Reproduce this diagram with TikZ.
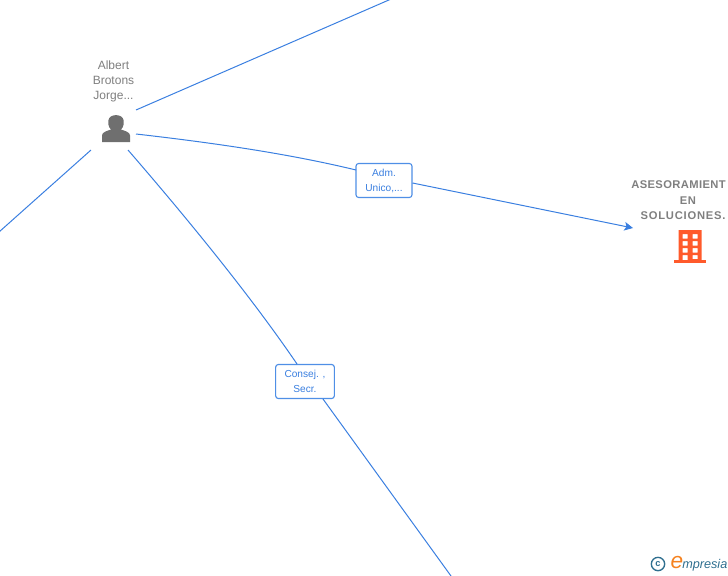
\documentclass[tikz,border=0pt]{standalone}
\usepackage{fontspec}
\setmainfont{Liberation Sans}
\usetikzlibrary{arrows.meta}
\definecolor{edgeblue}{HTML}{3A7FE0}
\definecolor{boxblue}{HTML}{4F8FE6}
\definecolor{labelgrey}{HTML}{7F7F7F}
\definecolor{icongrey}{HTML}{6F6F6F}
\definecolor{bldorange}{HTML}{FF5A2B}
\definecolor{logoblue}{HTML}{2F6F8F}
\definecolor{logoorange}{HTML}{F58220}
\tikzset{
  x=0.75pt,y=-0.75pt,
  edgeline/.style={draw=edgeblue,line width=0.75pt},
  rolebox/.style={draw=boxblue,fill=white,rounded corners=2pt,line width=0.85pt,text=edgeblue,
    font=\fontsize{7.6pt}{11.2pt}\selectfont,align=center,inner sep=0pt},
  namelabel/.style={text=labelgrey,font=\fontsize{9pt}{11.2pt}\selectfont,align=center,inner sep=0pt},
  firmlabel/.style={text=labelgrey,font=\fontsize{8.4pt}{11.2pt}\selectfont\bfseries,align=center,inner sep=0pt},
}
\begin{document}
\begin{tikzpicture}
\useasboundingbox (0,0) rectangle (728,575);
% role boxes
\node[rolebox,minimum width=42pt,minimum height=25.5pt,text depth=0pt] (adm) at (384,180.5) {Adm.\\Unico,...};
\node[rolebox,minimum width=44pt,minimum height=25.5pt] (consej) at (305,381.5) {Consej. ,\\Secr.};
% anchors of free ends
\coordinate (pTop) at (136,110);
\coordinate (pRight) at (136,134);
\coordinate (pLeft) at (91,150);
\coordinate (pDown) at (128,150);
\coordinate (offTop) at (390,-0.5);
\coordinate (offLeft) at (-1,232);
\coordinate (offBottom) at (451,576);
\coordinate (firmIn) at (633,228);
\coordinate (admIn) at (356,170);
\coordinate (admOut) at (412.5,183);
\coordinate (conIn) at (297,364);
\coordinate (conOut) at (323,399);
% connectors
\draw[edgeline] (pTop) -- (offTop);
\draw[edgeline] (pLeft) -- (offLeft);
\draw[edgeline] (pRight) .. controls (215,143) and (290,154) .. (admIn);
\draw[edgeline,-{Stealth[length=6.5pt,width=6.5pt,inset=1.5pt]}] (admOut) -- (firmIn);
\draw[edgeline] (pDown) .. controls (180,210) and (248,292) .. (conIn);
\draw[edgeline] (conOut) -- (offBottom);
% person
\node[namelabel] (person) at (113.5,81.5) {Albert\\Brotons\\Jorge...};
\fill[icongrey] (102,142) -- (102,135.5) .. controls (102,132) and (107,131) .. (111,129.5)
  .. controls (108,127) and (108,122) .. (108.5,120) .. controls (109.5,113.5) and (122.5,113.5) .. (123.5,120)
  .. controls (124,122) and (124,127) .. (121,129.5) .. controls (125,131) and (130,132) .. (130,135.5)
  -- (130,142) -- cycle;
% firm
\node[firmlabel,anchor=north west] (firm1) at (631,180) {\addfontfeature{LetterSpace=3.5}ASESORAMIENT};
\node[firmlabel] (firm2) at (688,200.5) {\addfontfeature{LetterSpace=5}EN};
\node[firmlabel] (firm3) at (683,215.5) {\addfontfeature{LetterSpace=7}SOLUCIONES.};
\fill[bldorange,even odd rule] (678.5,230) rectangle (701.5,260)
  (682.5,234) rectangle (687.5,238.5) (692.5,234) rectangle (697.5,238.5)
  (682.5,241) rectangle (687.5,245.5) (692.5,241) rectangle (697.5,245.5)
  (682.5,248) rectangle (687.5,252.5) (692.5,248) rectangle (697.5,252.5)
  (682.5,255) rectangle (687.5,260) (692.5,255) rectangle (697.5,259);
\fill[bldorange] (674,260) rectangle (706,263);
% logo
\node[draw=logoblue,line width=1pt,circle,minimum size=10pt,inner sep=0pt,text=logoblue,font=\fontsize{7pt}{7pt}\selectfont\bfseries] (copy) at (658,564) {c};
\node[text=logoorange,font=\fontsize{17pt}{17pt}\selectfont\itshape,inner sep=0pt] (logoe) at (677,563) {e};
\node[text=logoblue,font=\fontsize{9.5pt}{10pt}\selectfont\itshape,inner sep=0pt,anchor=west] (logot) at (682,565) {mpresia};
\end{tikzpicture}
\end{document}
